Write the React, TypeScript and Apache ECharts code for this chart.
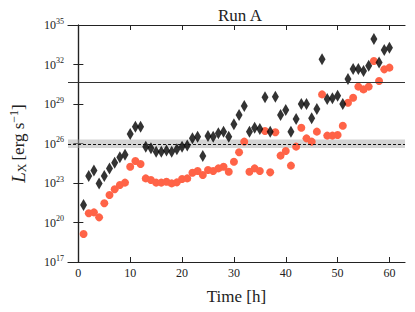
import React, { useEffect, useRef } from "react";
import * as echarts from "echarts";

// Time [h]
const hours = Array.from({ length: 60 }, (_, i) => i + 1);
// log10 of L_X [erg s^-1], black diamonds
const logLxDiamonds = [
  21.33, 23.53, 23.94, 22.97, 23.53, 24.11, 24.54, 24.95, 25.15, 26.72,
  27.28, 27.28, 25.76, 25.63, 25.38, 25.38, 25.46, 25.38, 25.56, 25.76,
  25.84, 26.39, 26.52, 25.05, 26.57, 26.52, 26.77, 26.9, 26.52, 27.46,
  28.16, 28.85, 26.9, 27.2, 27.1, 29.51, 26.9, 29.56, 28.16, 28.54,
  26.9, 27.86, 29.0, 29.0, 27.91, 28.62, 32.39, 29.38, 29.43, 29.63,
  29.0, 30.9, 31.66, 31.66, 31.51, 31.91, 33.94, 32.16, 33.1, 33.28,
];
// log10 of L_X [erg s^-1], red circles
const logLxCircles = [
  19.13, 20.7, 20.77, 20.39, 21.46, 22.09, 22.52, 22.85, 23.03, 24.24,
  24.67, 24.44, 23.35, 23.23, 23.03, 23.03, 23.1, 22.97, 23.05, 23.3,
  23.35, 23.78, 23.91, 23.61, 23.99, 23.91, 24.11, 24.24, 23.86, 24.62,
  25.33, 26.14, 23.86, 24.11, 23.91, 26.95, 23.81, 26.85, 25.08, 25.43,
  24.32, 25.76, 27.2, 26.39, 26.14, 26.9, 29.73, 26.6, 26.6, 26.65,
  27.35, 29.1, 29.48, 30.32, 30.11, 30.32, 32.27, 30.75, 31.63, 31.76,
];
// reference levels (log10)
const solidLevel = 30.65;
const dashedLevel = 25.94;
const bandRange = [25.65, 26.3];
const xTicks = [0, 10, 20, 30, 40, 50, 60];

const FONT = "'Liberation Serif', 'DejaVu Serif', serif";
const INK = "#222";

export default function App() {
  const ref = useRef<HTMLDivElement>(null);
  useEffect(() => {
    document.body.style.margin = "0";
    if (!ref.current) return;
    const chart = echarts.init(ref.current, null, { renderer: "svg" });
    const axisLineStyle = { color: INK, width: 1.2 };
    const tick = { show: true, inside: true, length: 5, lineStyle: { color: INK, width: 1 } };
    chart.setOption({
      animation: false,
      backgroundColor: "#fff",
      title: {
        text: "Run A",
        left: 235,
        textAlign: "center",
        top: 2,
        textStyle: { fontFamily: FONT, fontSize: 17, fontWeight: "normal", color: INK },
      },
      grid: { left: 66, right: 10, top: 25, bottom: 50 },
      xAxis: [
        {
          type: "value",
          min: -2,
          max: 63,
          interval: 10,
          name: "Time [h]",
          nameLocation: "middle",
          nameGap: 26,
          nameTextStyle: { fontFamily: FONT, fontSize: 17, color: INK },
          axisLine: { show: true, lineStyle: axisLineStyle },
          axisTick: { ...tick, customValues: xTicks },
          axisLabel: {
            customValues: xTicks,
            fontFamily: FONT,
            fontSize: 12,
            color: INK,
            margin: 5,
          },
          splitLine: { show: false },
        },
        {
          type: "value",
          position: "top",
          min: -2,
          max: 63,
          axisLine: { show: true, lineStyle: axisLineStyle },
          axisTick: { ...tick, customValues: xTicks },
          axisLabel: { show: false },
          splitLine: { show: false },
        },
      ],
      yAxis: [
        {
          type: "value",
          min: 17,
          max: 35,
          interval: 3,
          name: "{i|L}{sub|X} {n|[erg s}{sup|−1}{n|]}",
          nameLocation: "middle",
          nameRotate: 90,
          nameGap: 40,
          nameTextStyle: {
            fontFamily: FONT,
            color: INK,
            rich: {
              i: { fontFamily: FONT, fontSize: 19, fontStyle: "italic", color: INK },
              sub: { fontFamily: FONT, fontSize: 12, color: INK, padding: [8, 0, 0, 0] },
              n: { fontFamily: FONT, fontSize: 17, color: INK },
              sup: { fontFamily: FONT, fontSize: 12, color: INK, padding: [0, 0, 8, 0] },
            },
          },
          axisLine: { show: true, lineStyle: axisLineStyle },
          axisTick: tick,
          axisLabel: {
            fontFamily: FONT,
            color: INK,
            margin: 4,
            formatter: (v: number) => `{b|10}{s|${v}}`,
            rich: {
              b: { fontFamily: FONT, fontSize: 12, color: INK },
              s: { fontFamily: FONT, fontSize: 8, color: INK, padding: [0, 0, 8, 0] },
            },
          },
          splitLine: { show: false },
        },
        {
          type: "value",
          position: "right",
          min: 17,
          max: 35,
          interval: 3,
          axisLine: { show: true, lineStyle: axisLineStyle },
          axisTick: tick,
          axisLabel: { show: false },
          splitLine: { show: false },
        },
      ],
      series: [
        {
          type: "scatter",
          name: "circles",
          symbol: "circle",
          symbolSize: 8,
          itemStyle: { color: "#FF6347", opacity: 1 },
          data: hours.map((h, i) => [h, logLxCircles[i]]),
          z: 3,
          markArea: {
            silent: true,
            itemStyle: { color: "rgba(170,170,170,0.5)" },
            data: [[{ yAxis: bandRange[0] }, { yAxis: bandRange[1] }]],
          },
          markLine: {
            silent: true,
            symbol: "none",
            label: { show: false },
            data: [
              { yAxis: solidLevel, lineStyle: { type: "solid", color: "#333", width: 1.2 } },
              { yAxis: dashedLevel, lineStyle: { type: [3, 2], color: "#111", width: 1 } },
            ],
          },
        },
        {
          type: "scatter",
          name: "diamonds",
          symbol: "diamond",
          symbolSize: [7, 12],
          itemStyle: { color: "#000" },
          data: hours.map((h, i) => [h, logLxDiamonds[i]]),
          z: 4,
        },
      ],
    });
    return () => chart.dispose();
  }, []);
  return <div ref={ref} style={{ width: 415, height: 312 }} />;
}
